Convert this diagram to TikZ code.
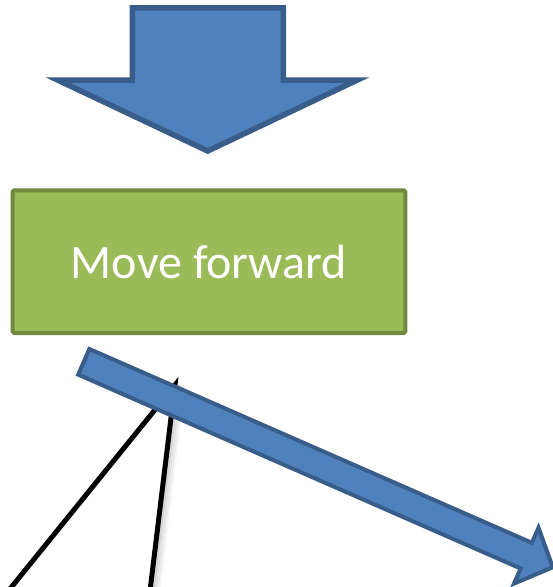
\documentclass[tikz,border=0pt]{standalone}
\usepackage{fontspec}
\setmainfont{Carlito}
\definecolor{blueFill}{HTML}{4F81BD}
\definecolor{blueLine}{HTML}{385D8A}
\definecolor{greenFill}{HTML}{9BBB59}
\definecolor{greenLine}{HTML}{71893F}
\tikzset{
  blockarrow/.style={fill=blueFill, draw=blueLine, line join=miter},
  actionbox/.style={rectangle, fill=greenFill, draw=greenLine, line width=4pt,
    rounded corners=1.5pt, minimum width=392.7pt, minimum height=142.7pt,
    inner sep=0pt, text=white, font=\fontsize{48}{56}\selectfont},
  leg/.style={draw=black, line width=5pt, line join=miter, line cap=butt},
  legshadow/.style={draw=black!60, line width=3pt, line cap=butt}
}
\begin{document}
\begin{tikzpicture}[x=1pt,y=-1pt]
\useasboundingbox (0,0) rectangle (553,587);
\clip (0,0) rectangle (553,587);
\fill[white] (0,0) rectangle (553,587);

% top block arrow pointing down
\draw[blockarrow, line width=5.5pt]
  (132.25,7.75) -- (283.25,7.75) -- (283.25,80) -- (357.4,80)
  -- (207.7,151) -- (57.6,80) -- (132.25,80) -- cycle;

% action box
\node[actionbox] (move) at (209,261.65) {Move forward};

% legs (drawn behind the diagonal arrow)
\coordinate (apex) at (175,385);
\coordinate (lfoot) at (1,600);
\coordinate (rfoot) at (148.9,600);
\foreach \dx/\op in {9/0.05,7/0.09,5/0.14,3/0.2}{
  \draw[legshadow, opacity=\op] ([xshift=\dx pt]apex) -- ([xshift=\dx pt]rfoot);
}
\draw[leg] (lfoot) -- (apex) -- (rfoot);

% diagonal block arrow
\draw[blockarrow, line width=4pt]
  (89.4,349.0) -- (531.9,542.8) -- (538.5,527.7) -- (552.8,567.3)
  -- (514.0,583.6) -- (520.6,568.5) -- (78.2,374.6) -- cycle;
\end{tikzpicture}
\end{document}
